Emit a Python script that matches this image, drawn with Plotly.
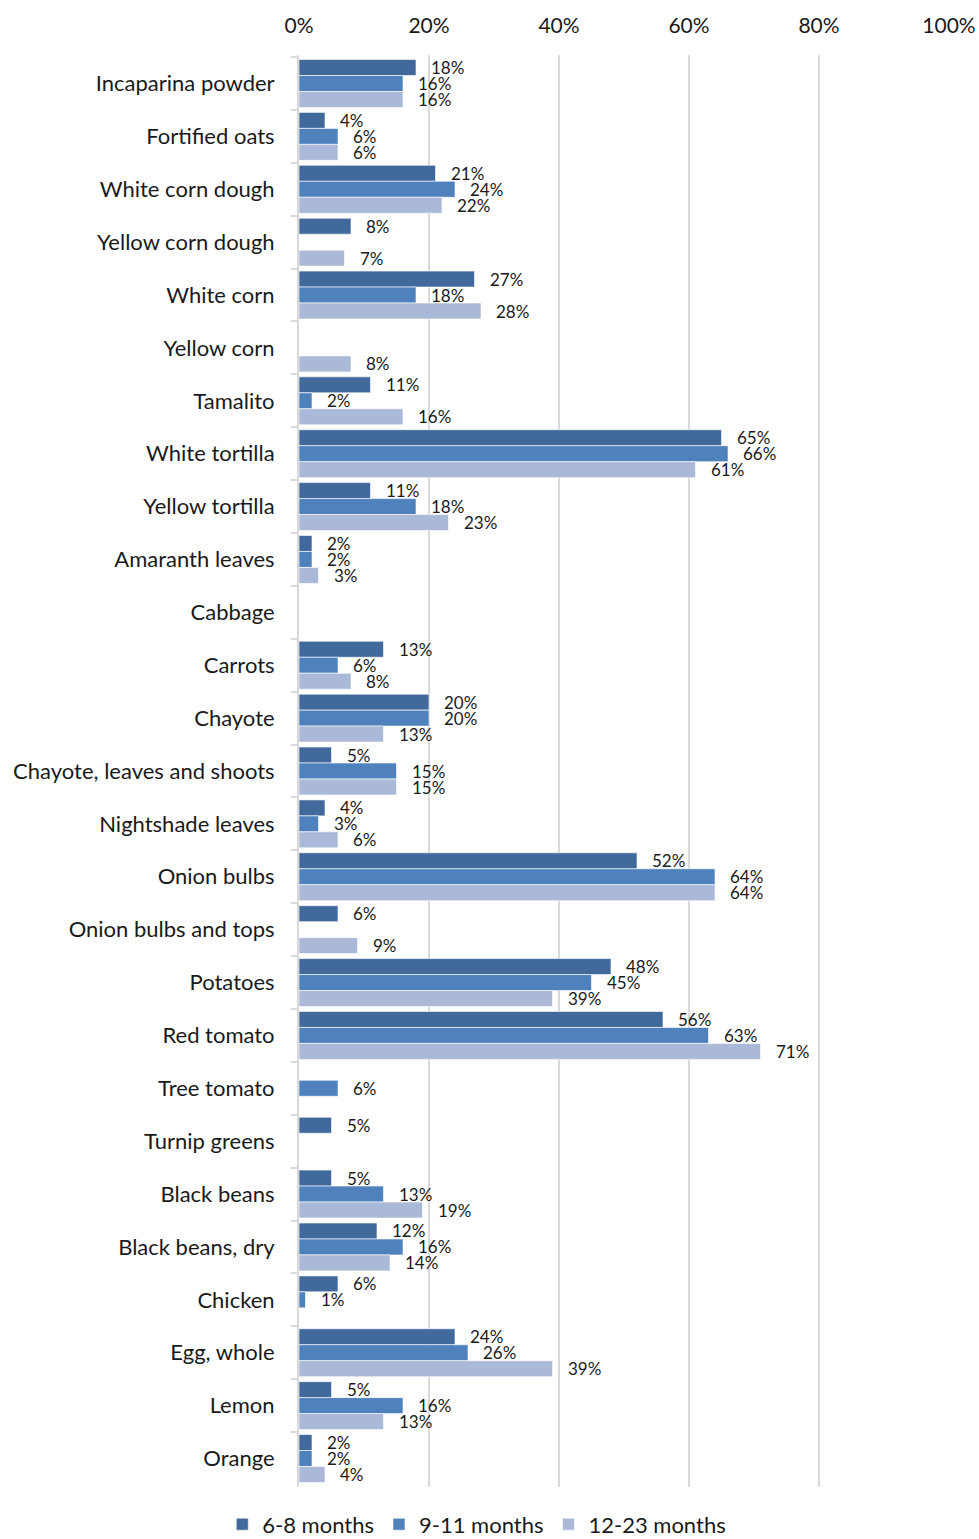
import plotly.graph_objects as go

# Foods given to children, share of each age group (%)
foods = [
    "Incaparina powder", "Fortified oats", "White corn dough", "Yellow corn dough",
    "White corn", "Yellow corn", "Tamalito", "White tortilla", "Yellow tortilla",
    "Amaranth leaves", "Cabbage", "Carrots", "Chayote", "Chayote, leaves and shoots",
    "Nightshade leaves", "Onion bulbs", "Onion bulbs and tops", "Potatoes",
    "Red tomato", "Tree tomato", "Turnip greens", "Black beans", "Black beans, dry",
    "Chicken", "Egg, whole", "Lemon", "Orange",
]

age_6_8 = [18, 4, 21, 8, 27, None, 11, 65, 11, 2, None, 13, 20, 5, 4, 52, 6, 48,
           56, None, 5, 5, 12, 6, 24, 5, 2]
age_9_11 = [16, 6, 24, None, 18, None, 2, 66, 18, 2, None, 6, 20, 15, 3, 64, None, 45,
            63, 6, None, 13, 16, 1, 26, 16, 2]
age_12_23 = [16, 6, 22, 7, 28, 8, 16, 61, 23, 3, None, 8, 13, 15, 6, 64, 9, 39,
             71, None, None, 19, 14, None, 39, 13, 4]

series_names = ["6-8 months", "9-11 months", "12-23 months"]
series_values = [age_6_8, age_9_11, age_12_23]
series_colors = ["#41699B", "#4F81BD", "#AAB9D7"]

FONT = "Lato"
TEXT = "#1a1a1a"

fig = go.Figure()
for name, vals, col in zip(series_names, series_values, series_colors):
    fig.add_trace(go.Bar(
        name=name, y=foods, x=vals, orientation="h",
        marker=dict(color=col, line=dict(color="rgba(255,255,255,0.6)", width=1)),
        hoverinfo="x+y+name",
    ))

# Value labels just past the end of each bar, offset to the bar's slot in the group
slot_px = 16
annotations = []
for i, vals in enumerate(series_values):
    for food, v in zip(foods, vals):
        if v is None:
            continue
        annotations.append(dict(
            x=v, y=food, xref="x", yref="y", text=f"{v}%", showarrow=False,
            xanchor="left", yanchor="middle", xshift=13, yshift=(1 - i) * slot_px,
            font=dict(family=FONT, size=17, color=TEXT),
        ))

fig.update_layout(
    width=979, height=1539,
    margin=dict(l=299, r=30, t=55, b=52, autoexpand=False),
    paper_bgcolor="white", plot_bgcolor="white",
    barmode="group", bargap=0.094, bargroupgap=0,
    font=dict(family=FONT, color=TEXT),
    annotations=annotations,
    legend=dict(
        orientation="h", x=0.487, xanchor="center", xref="container",
        y=0.0095, yanchor="middle", yref="container",
        font=dict(family=FONT, size=22, color=TEXT), traceorder="normal",
        itemwidth=30,
    ),
    showlegend=True,
)

fig.update_xaxes(
    side="top", range=[0, 100], dtick=20, ticksuffix="%",
    showgrid=True, gridcolor="#D9D9D9", gridwidth=2,
    zeroline=False, showline=False, ticks="",
    tickfont=dict(family=FONT, size=21, color=TEXT),
    ticklabelstandoff=17, automargin=False,
    fixedrange=True,
)
fig.update_yaxes(
    autorange="reversed", type="category",
    showline=True, linecolor="#D9D9D9", linewidth=2,
    ticks="outside", tickson="boundaries", ticklen=6, tickcolor="#D9D9D9", tickwidth=2,
    showgrid=False,
    tickfont=dict(family=FONT, size=22, color=TEXT),
    ticklabelstandoff=18, automargin=False,
    fixedrange=True,
)

fig.write_html("out.html")
